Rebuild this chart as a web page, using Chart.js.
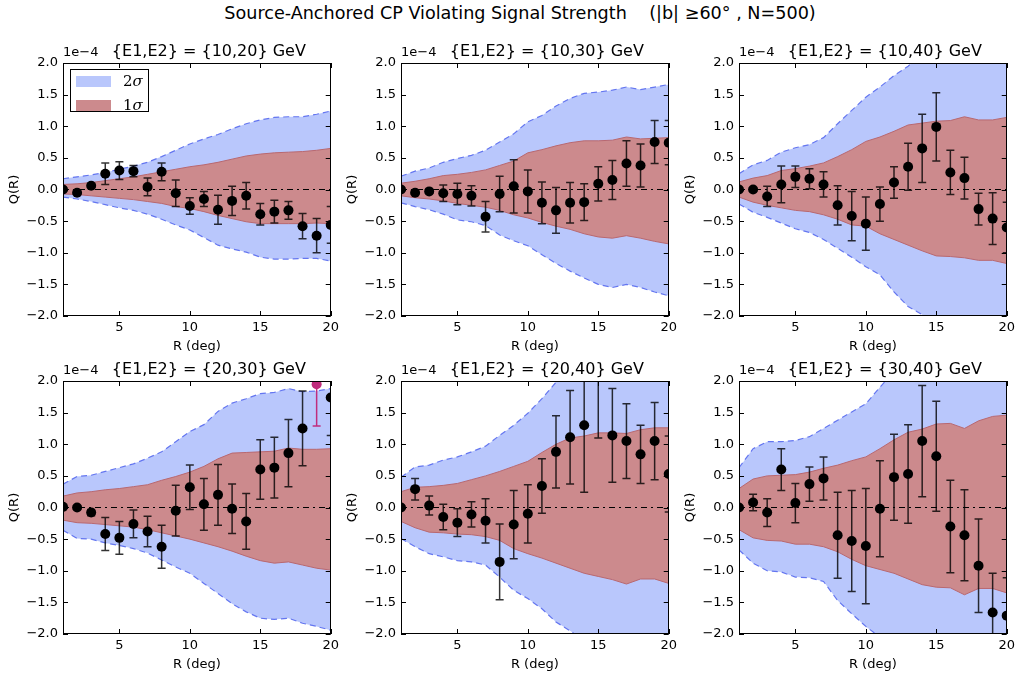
<!DOCTYPE html>
<html lang="en">
<head>
<meta charset="UTF-8">
<title>Source-Anchored CP Violating Signal Strength</title>
<script src="https://cdn.jsdelivr.net/npm/chart.js"></script>
<style>
  body { margin: 0; background: #fff; width: 1019px; height: 682px; position: relative; overflow: hidden; font-family: "DejaVu Sans", sans-serif; }
  #title { position: absolute; top: 3px; left: 0; width: 1040px; text-align: center; font-size: 17.6px; color: #000; white-space: pre; }
  .panel { position: absolute; }
</style>
</head>
<body>
<div id="title">Source-Anchored CP Violating Signal Strength    (|b| ≥60° , N=500)</div>

<div class="panel" style="left:0px;top:30px"><canvas id="p0" width="343" height="330"></canvas></div>
<div class="panel" style="left:338px;top:30px"><canvas id="p1" width="343" height="330"></canvas></div>
<div class="panel" style="left:676px;top:30px"><canvas id="p2" width="343" height="330"></canvas></div>
<div class="panel" style="left:0px;top:348px"><canvas id="p3" width="343" height="330"></canvas></div>
<div class="panel" style="left:338px;top:348px"><canvas id="p4" width="343" height="330"></canvas></div>
<div class="panel" style="left:676px;top:348px"><canvas id="p5" width="343" height="330"></canvas></div>

<script>
// Q(R) in units of 1e-4, R in degrees
const R = [1, 2, 3, 4, 5, 6, 7, 8, 9, 10, 11, 12, 13, 14, 15, 16, 17, 18, 19, 20];
const yTicks = [-2.0, -1.5, -1.0, -0.5, 0.0, 0.5, 1.0, 1.5, 2.0];
const xTicks = [5, 10, 15, 20];

// {E1,E2} = {10,20} GeV
const q_10_20   = [0.00, -0.05, 0.06, 0.25, 0.30, 0.29, 0.04, 0.28, -0.06, -0.26, -0.15, -0.32, -0.18, -0.10, -0.39, -0.35, -0.33, -0.58, -0.73, -0.56];
const err_10_20 = [0.00, 0.02, 0.03, 0.17, 0.14, 0.09, 0.14, 0.14, 0.21, 0.13, 0.12, 0.23, 0.23, 0.21, 0.17, 0.18, 0.14, 0.20, 0.27, 0.29];
const up2_10_20 = [0.17, 0.20, 0.23, 0.27, 0.32, 0.37, 0.43, 0.52, 0.62, 0.72, 0.80, 0.87, 0.96, 1.04, 1.10, 1.14, 1.15, 1.15, 1.19, 1.24];
const lo2_10_20 = [-0.12, -0.15, -0.19, -0.24, -0.29, -0.33, -0.39, -0.47, -0.56, -0.64, -0.76, -0.88, -0.94, -0.99, -1.07, -1.10, -1.10, -1.09, -1.09, -1.13];
const up1_10_20 = [0.08, 0.09, 0.11, 0.14, 0.17, 0.20, 0.24, 0.28, 0.32, 0.36, 0.39, 0.43, 0.48, 0.53, 0.56, 0.58, 0.59, 0.60, 0.62, 0.65];
const lo1_10_20 = [-0.07, -0.08, -0.10, -0.12, -0.14, -0.16, -0.19, -0.22, -0.27, -0.30, -0.35, -0.41, -0.46, -0.51, -0.54, -0.54, -0.54, -0.54, -0.53, -0.54];

// {E1,E2} = {10,30} GeV
const q_10_30   = [0.00, -0.05, -0.03, -0.06, -0.07, -0.10, -0.43, -0.07, 0.05, -0.03, -0.21, -0.33, -0.21, -0.20, 0.09, 0.15, 0.41, 0.38, 0.75, 0.74];
const err_10_30 = [0.00, 0.02, 0.03, 0.13, 0.17, 0.16, 0.24, 0.28, 0.42, 0.34, 0.33, 0.36, 0.32, 0.29, 0.27, 0.31, 0.36, 0.34, 0.34, 0.35];
const up2_10_30 = [0.21, 0.29, 0.34, 0.43, 0.49, 0.54, 0.62, 0.75, 0.88, 1.07, 1.17, 1.32, 1.44, 1.52, 1.54, 1.57, 1.62, 1.58, 1.62, 1.66];
const lo2_10_30 = [-0.21, -0.27, -0.32, -0.39, -0.48, -0.51, -0.57, -0.72, -0.81, -0.89, -1.03, -1.17, -1.29, -1.40, -1.50, -1.55, -1.50, -1.55, -1.62, -1.68];
const up1_10_30 = [0.10, 0.13, 0.17, 0.22, 0.24, 0.27, 0.31, 0.38, 0.45, 0.58, 0.63, 0.69, 0.74, 0.77, 0.77, 0.78, 0.83, 0.80, 0.81, 0.82];
const lo1_10_30 = [-0.10, -0.13, -0.15, -0.18, -0.22, -0.25, -0.28, -0.33, -0.40, -0.45, -0.52, -0.58, -0.63, -0.70, -0.75, -0.77, -0.73, -0.77, -0.82, -0.86];

// {E1,E2} = {10,40} GeV
const q_10_40   = [0.00, 0.00, -0.11, 0.08, 0.20, 0.17, 0.08, -0.25, -0.42, -0.54, -0.23, 0.11, 0.36, 0.65, 0.99, 0.27, 0.18, -0.31, -0.46, -0.60];
const err_10_40 = [0.00, 0.02, 0.16, 0.29, 0.17, 0.16, 0.20, 0.31, 0.39, 0.42, 0.27, 0.25, 0.37, 0.54, 0.54, 0.35, 0.33, 0.25, 0.41, 0.40];
const up2_10_40 = [0.25, 0.39, 0.46, 0.59, 0.66, 0.71, 0.82, 1.04, 1.25, 1.46, 1.62, 1.80, 1.95, 2.15, 2.30, 2.35, 2.40, 2.40, 2.40, 2.40];
const lo2_10_40 = [-0.23, -0.36, -0.44, -0.53, -0.62, -0.68, -0.79, -0.93, -1.07, -1.22, -1.35, -1.62, -1.85, -1.98, -2.15, -2.25, -2.30, -2.30, -2.30, -2.30];
const up1_10_40 = [0.12, 0.18, 0.22, 0.30, 0.33, 0.37, 0.42, 0.52, 0.63, 0.76, 0.83, 0.92, 1.02, 1.05, 1.08, 1.09, 1.15, 1.10, 1.10, 1.14];
const lo1_10_40 = [-0.12, -0.20, -0.25, -0.29, -0.33, -0.35, -0.40, -0.47, -0.56, -0.58, -0.70, -0.79, -0.88, -0.97, -1.05, -1.06, -1.08, -1.12, -1.12, -1.17];

// {E1,E2} = {20,30} GeV
const q_20_30   = [0.01, 0.00, -0.08, -0.42, -0.48, -0.26, -0.38, -0.62, -0.05, 0.32, 0.05, 0.20, -0.02, -0.22, 0.60, 0.63, 0.86, 1.25, 1.95, 1.74];
const err_20_30 = [0.00, 0.02, 0.05, 0.26, 0.26, 0.22, 0.24, 0.34, 0.40, 0.35, 0.41, 0.48, 0.39, 0.44, 0.47, 0.48, 0.53, 0.59, 0.66, 0.60];
const up2_20_30 = [0.37, 0.49, 0.51, 0.57, 0.63, 0.69, 0.78, 0.88, 1.04, 1.20, 1.31, 1.52, 1.65, 1.72, 1.80, 1.82, 1.88, 1.83, 1.84, 1.88];
const lo2_20_30 = [-0.36, -0.49, -0.50, -0.56, -0.60, -0.65, -0.72, -0.83, -0.94, -1.04, -1.20, -1.36, -1.52, -1.65, -1.75, -1.77, -1.75, -1.83, -1.88, -1.94];
const up1_20_30 = [0.18, 0.23, 0.25, 0.28, 0.30, 0.33, 0.36, 0.43, 0.49, 0.56, 0.65, 0.77, 0.86, 0.87, 0.88, 0.89, 0.94, 0.92, 0.92, 0.93];
const lo1_20_30 = [-0.20, -0.24, -0.25, -0.27, -0.29, -0.31, -0.35, -0.40, -0.45, -0.50, -0.56, -0.62, -0.69, -0.77, -0.84, -0.88, -0.86, -0.91, -0.96, -0.99];
const flagged_20_30 = [19];

// {E1,E2} = {20,40} GeV
const q_20_40   = [0.00, 0.29, 0.03, -0.15, -0.24, -0.11, -0.21, -0.86, -0.27, -0.10, 0.34, 0.88, 1.11, 1.30, 2.25, 1.14, 1.05, 0.84, 1.05, 0.53];
const err_20_40 = [0.00, 0.17, 0.15, 0.20, 0.22, 0.20, 0.35, 0.60, 0.54, 0.46, 0.43, 0.57, 0.74, 1.06, 1.15, 0.74, 0.59, 0.46, 0.61, 0.60];
const up2_20_40 = [0.48, 0.64, 0.67, 0.75, 0.80, 0.88, 0.97, 1.14, 1.30, 1.49, 1.72, 1.98, 2.20, 2.30, 2.30, 2.30, 2.30, 2.30, 2.30, 2.30];
const lo2_20_40 = [-0.49, -0.62, -0.73, -0.78, -0.84, -0.86, -0.91, -1.10, -1.31, -1.44, -1.60, -1.81, -1.95, -2.10, -2.20, -2.20, -2.20, -2.20, -2.20, -2.20];
const up1_20_40 = [0.25, 0.32, 0.33, 0.35, 0.38, 0.44, 0.50, 0.57, 0.65, 0.73, 0.87, 1.00, 1.10, 1.13, 1.18, 1.18, 1.17, 1.23, 1.26, 1.26];
const lo1_20_40 = [-0.22, -0.32, -0.39, -0.40, -0.42, -0.43, -0.46, -0.52, -0.65, -0.73, -0.80, -0.88, -0.96, -1.04, -1.09, -1.14, -1.21, -1.13, -1.13, -1.20];

// {E1,E2} = {30,40} GeV
const q_30_40   = [0.00, 0.08, -0.08, 0.60, 0.07, 0.37, 0.46, -0.44, -0.53, -0.61, -0.02, 0.48, 0.53, 1.05, 0.81, -0.30, -0.44, -0.92, -1.66, -1.71];
const err_30_40 = [0.00, 0.13, 0.22, 0.33, 0.31, 0.27, 0.34, 0.68, 0.80, 0.91, 0.76, 0.68, 0.78, 0.88, 0.87, 0.73, 0.72, 0.74, 0.62, 0.60];
const up2_30_40 = [0.63, 0.93, 1.04, 1.04, 1.06, 1.12, 1.25, 1.38, 1.51, 1.64, 1.90, 2.15, 2.30, 2.30, 2.30, 2.30, 2.30, 2.30, 2.30, 2.30];
const lo2_30_40 = [-0.67, -0.88, -1.00, -1.02, -1.10, -1.11, -1.17, -1.47, -1.68, -1.88, -2.05, -2.30, -2.30, -2.30, -2.30, -2.30, -2.30, -2.30, -2.30, -2.30];
const up1_30_40 = [0.30, 0.45, 0.50, 0.51, 0.52, 0.56, 0.62, 0.67, 0.74, 0.80, 0.93, 1.07, 1.19, 1.24, 1.32, 1.33, 1.25, 1.37, 1.44, 1.46];
const lo1_30_40 = [-0.35, -0.48, -0.52, -0.53, -0.58, -0.58, -0.62, -0.70, -0.82, -0.92, -0.98, -1.04, -1.13, -1.22, -1.26, -1.27, -1.38, -1.28, -1.28, -1.35];

const panels = [
  { title: '{E1,E2} = {10,20} GeV', q: q_10_20, err: err_10_20, up2: up2_10_20, lo2: lo2_10_20, up1: up1_10_20, lo1: lo1_10_20, flagged: [], legend: true },
  { title: '{E1,E2} = {10,30} GeV', q: q_10_30, err: err_10_30, up2: up2_10_30, lo2: lo2_10_30, up1: up1_10_30, lo1: lo1_10_30, flagged: [] },
  { title: '{E1,E2} = {10,40} GeV', q: q_10_40, err: err_10_40, up2: up2_10_40, lo2: lo2_10_40, up1: up1_10_40, lo1: lo1_10_40, flagged: [] },
  { title: '{E1,E2} = {20,30} GeV', q: q_20_30, err: err_20_30, up2: up2_20_30, lo2: lo2_20_30, up1: up1_20_30, lo1: lo1_20_30, flagged: flagged_20_30 },
  { title: '{E1,E2} = {20,40} GeV', q: q_20_40, err: err_20_40, up2: up2_20_40, lo2: lo2_20_40, up1: up1_20_40, lo1: lo1_20_40, flagged: [] },
  { title: '{E1,E2} = {30,40} GeV', q: q_30_40, err: err_30_40, up2: up2_30_40, lo2: lo2_30_40, up1: up1_30_40, lo1: lo1_30_40, flagged: [] }
];

const BLUE_FILL = 'rgb(185,199,252)';
const BLUE_EDGE = 'rgb(100,118,240)';
const RED_FILL = 'rgb(204,138,141)';
const RED_EDGE = 'rgb(184,104,112)';
const FLAG = 'rgb(192,45,125)';
const FONT = '"DejaVu Sans", sans-serif';

function xy(ys) {
  return R.map((r, i) => ({ x: r, y: ys[i] }));
}

function fmtTick(v) {
  return (v < -1e-9 ? '\u2212' : '') + Math.abs(v).toFixed(1);
}

// error bars go under the markers of the dataset that carries them
const errorBars = {
  id: 'errorBars',
  beforeDatasetDraw(chart, args) {
    const ds = chart.data.datasets[args.index];
    if (!ds.errors) return;
    const { ctx, chartArea: a, scales: { x, y } } = chart;
    ctx.save();
    ctx.beginPath();
    ctx.rect(a.left, a.top, a.right - a.left, a.bottom - a.top);
    ctx.clip();
    ctx.lineWidth = 1.5;
    ds.data.forEach((p, i) => {
      const e = ds.errors[i];
      if (!e) return;
      const px = x.getPixelForValue(p.x);
      const y1 = y.getPixelForValue(p.y + e);
      const y2 = y.getPixelForValue(p.y - e);
      ctx.strokeStyle = ds.barColors[i];
      ctx.beginPath();
      ctx.moveTo(px, y1); ctx.lineTo(px, y2);
      ctx.moveTo(px - 4, y1); ctx.lineTo(px + 4, y1);
      ctx.moveTo(px - 4, y2); ctx.lineTo(px + 4, y2);
      ctx.stroke();
    });
    ctx.restore();
  }
};

// frame, inward ticks on all four sides, panel title, offset text and legend
const frame = {
  id: 'frame',
  afterDraw(chart, args, opts) {
    const { ctx, chartArea: a, scales: { x, y } } = chart;
    ctx.save();
    ctx.strokeStyle = '#000';
    ctx.lineWidth = 1;
    ctx.beginPath();
    xTicks.forEach(v => {
      const px = Math.round(x.getPixelForValue(v)) + 0.5;
      ctx.moveTo(px, a.bottom); ctx.lineTo(px, a.bottom - 5);
      ctx.moveTo(px, a.top); ctx.lineTo(px, a.top + 5);
    });
    yTicks.forEach(v => {
      const py = Math.round(y.getPixelForValue(v)) + 0.5;
      ctx.moveTo(a.left, py); ctx.lineTo(a.left + 5, py);
      ctx.moveTo(a.right, py); ctx.lineTo(a.right - 5, py);
    });
    ctx.stroke();
    ctx.strokeRect(Math.round(a.left) + 0.5, Math.round(a.top) + 0.5, Math.round(a.right - a.left) - 1, Math.round(a.bottom - a.top) - 1);

    ctx.fillStyle = '#000';
    ctx.textBaseline = 'middle';
    ctx.font = '16px ' + FONT;
    ctx.textAlign = 'center';
    ctx.fillText(opts.title, (a.left + a.right) / 2 + 12, a.top - 11);
    ctx.font = '13px ' + FONT;
    ctx.textAlign = 'left';
    ctx.fillText('1e\u22124', a.left, a.top - 10);

    if (opts.legend) {
      const lx = a.left + 7, ly = a.top + 6;
      ctx.fillStyle = '#fff';
      ctx.fillRect(lx, ly, 79, 43);
      ctx.strokeRect(lx + 0.5, ly + 0.5, 78, 42);
      ctx.fillStyle = BLUE_FILL;
      ctx.fillRect(lx + 6, ly + 7, 35, 11);
      ctx.fillStyle = RED_FILL;
      ctx.fillRect(lx + 6, ly + 31, 35, 11);
      ctx.fillStyle = '#000';
      [['2', 13], ['1', 37]].forEach(([n, dy]) => {
        ctx.font = '15px "DejaVu Serif", serif';
        ctx.fillText(n, lx + 53, ly + dy);
        const w = ctx.measureText(n).width;
        ctx.font = 'italic 15px "DejaVu Serif", serif';
        ctx.fillText('\u03c3', lx + 53 + w, ly + dy);
      });
    }
    ctx.restore();
  }
};

panels.forEach((p, k) => {
  const pointColors = R.map(r => p.flagged.includes(r) ? FLAG : '#000');
  const barColors = R.map(r => p.flagged.includes(r) ? FLAG : 'rgba(0,0,0,0.8)');
  new Chart(document.getElementById('p' + k), {
    type: 'line',
    data: {
      datasets: [
        { data: xy(p.up2), order: 5, fill: '+1', backgroundColor: BLUE_FILL, borderColor: BLUE_EDGE, borderWidth: 1.2, borderDash: [6, 4], pointRadius: 0, tension: 0 },
        { data: xy(p.lo2), order: 4, fill: false, borderColor: BLUE_EDGE, borderWidth: 1.2, borderDash: [6, 4], pointRadius: 0, tension: 0 },
        { data: xy(p.up1), order: 3, fill: '+1', backgroundColor: RED_FILL, borderColor: RED_EDGE, borderWidth: 1, pointRadius: 0, tension: 0 },
        { data: xy(p.lo1), order: 2, fill: false, borderColor: RED_EDGE, borderWidth: 1, pointRadius: 0, tension: 0 },
        { data: [{ x: R[0], y: 0 }, { x: R[R.length - 1], y: 0 }], order: 1, fill: false, borderColor: '#000', borderWidth: 1, borderDash: [6, 4, 2, 4], pointRadius: 0 },
        { data: xy(p.q), order: 0, showLine: false, pointRadius: 5, pointHoverRadius: 5, pointBorderWidth: 0,
          pointBackgroundColor: pointColors, pointBorderColor: pointColors, errors: p.err, barColors: barColors, clip: 0 }
      ]
    },
    options: {
      responsive: false,
      animation: false,
      events: [],
      layout: { padding: { top: 33, right: 10, bottom: 0, left: 0 } },
      scales: {
        x: {
          type: 'linear', min: 1, max: 20,
          afterBuildTicks: s => { s.ticks = xTicks.map(v => ({ value: v })); },
          afterFit: s => { s.height = 44; },
          grid: { display: false, drawTicks: false },
          border: { display: false },
          ticks: { color: '#000', font: { family: FONT, size: 13 }, padding: 4, maxRotation: 0 },
          title: { display: true, text: 'R (deg)', color: '#000', font: { family: FONT, size: 13 }, padding: { top: 0, bottom: 6 } }
        },
        y: {
          type: 'linear', min: -2, max: 2,
          afterBuildTicks: s => { s.ticks = yTicks.map(v => ({ value: v })); },
          afterFit: s => { s.width = 63; },
          grid: { display: false, drawTicks: false },
          border: { display: false },
          ticks: { color: '#000', font: { family: FONT, size: 13 }, padding: 5, callback: fmtTick },
          title: { display: true, text: 'Q(R)', color: '#000', font: { family: FONT, size: 13 }, padding: { top: 7, bottom: 0 } }
        }
      },
      plugins: {
        legend: { display: false },
        tooltip: { enabled: false },
        frame: { title: p.title, legend: !!p.legend }
      }
    },
    plugins: [errorBars, frame]
  });
});
</script>
</body>
</html>
